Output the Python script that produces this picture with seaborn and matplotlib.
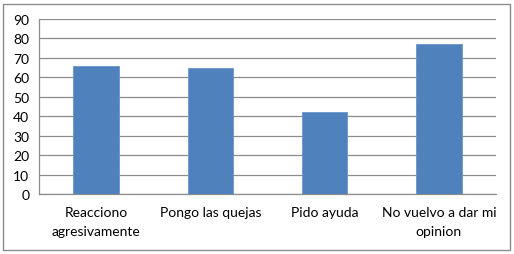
import matplotlib
matplotlib.use("Agg")
import matplotlib.pyplot as plt
import seaborn as sns
import pandas as pd
from matplotlib.patches import Rectangle

categories = ["Reacciono\nagresivamente", "Pongo las quejas", "Pido ayuda", "No vuelvo a dar mi\nopinion"]
values = [66, 65, 42, 77]
yticks = [0, 10, 20, 30, 40, 50, 60, 70, 80, 90]

sns.set_style("white")
plt.rcParams['font.family'] = ['Lato', 'DejaVu Sans']

df = pd.DataFrame({"cat": categories, "val": values})

fig = plt.figure(figsize=(5.14, 2.55), dpi=100)
ax = fig.add_axes([39/514, 1 - 195/255, (496-39)/514, (195-20)/255])

sns.barplot(data=df, x="cat", y="val", color="#4F81BD", width=0.4, ax=ax,
            edgecolor="#6A95C8", linewidth=0.6, saturation=1, zorder=3)

ax.set_ylim(0, 90)
ax.set_xlim(-0.5, len(categories) - 0.5)
ax.set_yticks(yticks)
ax.set_yticklabels([str(t) for t in yticks], fontsize=10, color="#000000")
ax.yaxis.grid(True, color="#8C8C8C", linewidth=0.9, zorder=0)
ax.set_axisbelow(True)
ax.set_xlabel("")
ax.set_ylabel("")

ax.set_xticks(range(len(categories)))
ax.set_xticklabels(categories, fontsize=10, color="#000000", linespacing=1.65)
ax.tick_params(axis="x", length=0, pad=9)
ax.set_xticks([i + 0.5 for i in range(-1, len(categories))], minor=True)
ax.tick_params(axis="x", which="minor", length=4, color="#8C8C8C", width=0.9, direction="out")
ax.tick_params(axis="y", length=4, color="#8C8C8C", width=0.9, direction="out", pad=3)

for s in ["top", "right"]:
    ax.spines[s].set_visible(False)
for s in ["left", "bottom"]:
    ax.spines[s].set_color("#8C8C8C")
    ax.spines[s].set_linewidth(0.9)

fig.patches.append(Rectangle((3/514, 4/255), 507/514, 246/255, transform=fig.transFigure,
                             fill=False, edgecolor="#8C8C8C", linewidth=1.0))

fig.savefig("out.png", dpi=100)
